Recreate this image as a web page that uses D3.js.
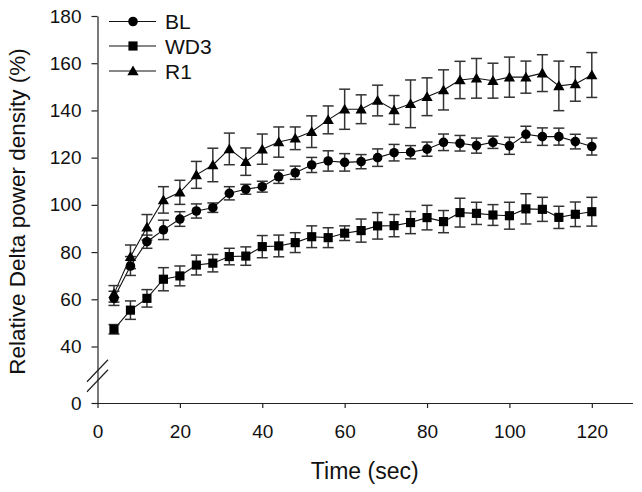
<!DOCTYPE html>
<html>
<head>
<meta charset="utf-8">
<script src="https://cdn.jsdelivr.net/npm/d3@7"></script>
<style>
  html, body { margin: 0; padding: 0; background: #fff; }
  svg { display: block; font-family: "Liberation Sans", Arial, sans-serif; }
</style>
</head>
<body>
<svg id="chart" width="642" height="492"></svg>
<script>
// ---- data ----
const time = [4, 8, 12, 16, 20, 24, 28, 32, 36, 40, 44, 48, 52, 56, 60, 64, 68, 72, 76, 80, 84, 88, 92, 96, 100, 104, 108, 112, 116, 120];

const blValues = [60.4, 74.1, 84.4, 89.4, 94.0, 97.4, 98.8, 104.9, 106.6, 107.7, 111.9, 113.6, 116.9, 118.6, 118.0, 118.3, 120.0, 122.1, 122.3, 123.6, 126.5, 126.1, 125.1, 126.5, 125.0, 129.9, 128.9, 128.9, 126.8, 124.7];
const blErrors = [3, 4, 2.8, 4.1, 3.1, 3, 2, 2.8, 2.1, 2.3, 2.8, 2.8, 3.2, 4.3, 3.7, 3, 3.7, 3.5, 2.8, 3, 3.5, 3.3, 3.2, 2.6, 3.6, 3.4, 3.7, 3.6, 3.1, 3.6];

const wd3Values = [47.3, 55.4, 60.4, 68.5, 69.9, 74.5, 75.3, 78.1, 78.3, 82.3, 82.6, 84.0, 86.5, 86.1, 88.0, 89.1, 91.1, 91.2, 92.5, 94.6, 92.9, 96.7, 96.4, 95.7, 95.4, 98.3, 98.1, 94.7, 96.0, 97.1];
const wd3Errors = [2, 3.9, 3.7, 4.9, 4.2, 4.2, 3.7, 3.5, 3.9, 4.7, 4.6, 4.2, 4.6, 4.2, 3.1, 4.9, 5.6, 4.7, 4.7, 5.2, 4.7, 6.1, 4.7, 4.4, 5.7, 6.4, 5.1, 4.7, 5.2, 6.1];

const r1Values = [62.3, 78.0, 90.5, 102.1, 105.3, 112.7, 116.9, 123.7, 118.3, 123.6, 126.6, 128.2, 131.0, 136.0, 140.5, 140.5, 144.2, 140.2, 142.8, 145.8, 148.7, 152.9, 153.6, 152.6, 154.1, 154.1, 155.8, 150.4, 151.2, 155.0];
const r1Errors = [3.5, 5, 5.4, 5.6, 5.1, 5.7, 7.1, 6.7, 5.8, 6.4, 6.4, 4.8, 6.7, 5.9, 8.5, 6.1, 6.5, 6.1, 10.1, 8, 8.5, 7.9, 8.4, 7.4, 8.5, 6.8, 7.8, 10.5, 7.3, 9.5];

const seriesNames = ["BL", "WD3", "R1"];
const xTicks = [0, 20, 40, 60, 80, 100, 120];
const yTicks = [0, 40, 60, 80, 100, 120, 140, 160, 180];
const xLabel = "Time (sec)";
const yLabel = "Relative Delta power density (%)";

// ---- build ----
const series = [
  { name: seriesNames[0], values: blValues, errors: blErrors, symbol: d3.symbolCircle, size: 72 },
  { name: seriesNames[1], values: wd3Values, errors: wd3Errors, symbol: d3.symbolSquare, size: 84 },
  { name: seriesNames[2], values: r1Values, errors: r1Errors, symbol: d3.symbolTriangle, size: 55 }
];

const svg = d3.select("#chart");

const x = d3.scaleLinear().domain([0, 130]).range([97.5, 633]);
// broken axis: 0 at bottom, then 40..180
const y = d3.scaleLinear().domain([0, 40, 180]).range([403, 346.5, 16]);

// axes
const xAxis = d3.axisBottom(x).tickValues(xTicks).tickSize(5).tickSizeOuter(0).tickPadding(17);
const gx = svg.append("g").attr("transform", "translate(0,403)").call(xAxis);
gx.select(".domain").attr("d", `M${x(0) - 2},0.5H${x(130)}`);

const yAxis = d3.axisLeft(y).tickValues(yTicks).tickSize(6).tickSizeOuter(0).tickPadding(10);
const gy = svg.append("g").attr("transform", "translate(97.5,0)").call(yAxis);

[gx, gy].forEach(g => {
  g.select(".domain").attr("stroke", "#222").attr("stroke-width", 1.2);
  g.selectAll(".tick line").attr("stroke", "#222").attr("stroke-width", 1.2);
  g.selectAll(".tick text").attr("fill", "#111").style("font-size", "19px")
    .style("font-family", "'Liberation Sans', Arial, sans-serif");
});

// axis break marks
const breakY = [y(20) + 6, y(20) - 4];
breakY.forEach(by => {
  svg.append("line")
    .attr("x1", 87).attr("y1", by + 11)
    .attr("x2", 108).attr("y2", by - 11)
    .attr("stroke", "#222").attr("stroke-width", 1.2);
});

// axis titles
svg.append("text")
  .attr("x", (x(0) + x(130)) / 2 - 0.5).attr("y", 479)
  .attr("text-anchor", "middle")
  .style("font-size", "23px").attr("fill", "#111")
  .text(xLabel);

svg.append("text")
  .attr("transform", "translate(25,211.5) rotate(-90)")
  .attr("text-anchor", "middle")
  .style("font-size", "22.5px").attr("fill", "#111")
  .text(yLabel);

// series
const line = d3.line().x(d => x(d.t)).y(d => y(d.v));
const plot = svg.append("g");

series.forEach(s => {
  const pts = time.map((t, i) => ({ t, v: s.values[i], e: s.errors[i] }));
  const g = plot.append("g");
  g.append("path").datum(pts).attr("d", line)
    .attr("fill", "none").attr("stroke", "#111").attr("stroke-width", 1.1);
  const eb = g.selectAll(".eb").data(pts).enter().append("g");
  eb.append("line")
    .attr("x1", d => x(d.t)).attr("x2", d => x(d.t))
    .attr("y1", d => y(d.v - d.e)).attr("y2", d => y(d.v + d.e))
    .attr("stroke", "#333").attr("stroke-width", 1.5);
  [1, -1].forEach(sign => {
    eb.append("line")
      .attr("x1", d => x(d.t) - 5.5).attr("x2", d => x(d.t) + 5.5)
      .attr("y1", d => y(d.v + sign * d.e)).attr("y2", d => y(d.v + sign * d.e))
      .attr("stroke", "#333").attr("stroke-width", 1.5);
  });
  s.pts = pts;
});

series.forEach(s => {
  plot.append("g").selectAll("path").data(s.pts).enter().append("path")
    .attr("d", d3.symbol().type(s.symbol).size(s.size))
    .attr("transform", d => `translate(${x(d.t)},${y(d.v) + (s.symbol === d3.symbolTriangle ? 1 : 0)})`)
    .attr("fill", "#000");
});

// legend
const legY = [21.5, 46, 71];
series.forEach((s, i) => {
  const lg = svg.append("g").attr("transform", `translate(0,${legY[i]})`);
  lg.append("line").attr("x1", 109).attr("x2", 156).attr("y1", 0).attr("y2", 0)
    .attr("stroke", "#111").attr("stroke-width", 1.1);
  lg.append("path").attr("d", d3.symbol().type(s.symbol).size(s.size))
    .attr("transform", `translate(133,${s.symbol === d3.symbolTriangle ? 1 : 0})`).attr("fill", "#000");
  lg.append("text").attr("x", 165).attr("y", 7.5)
    .style("font-size", "21px").attr("fill", "#111").text(s.name);
});
</script>
</body>
</html>
